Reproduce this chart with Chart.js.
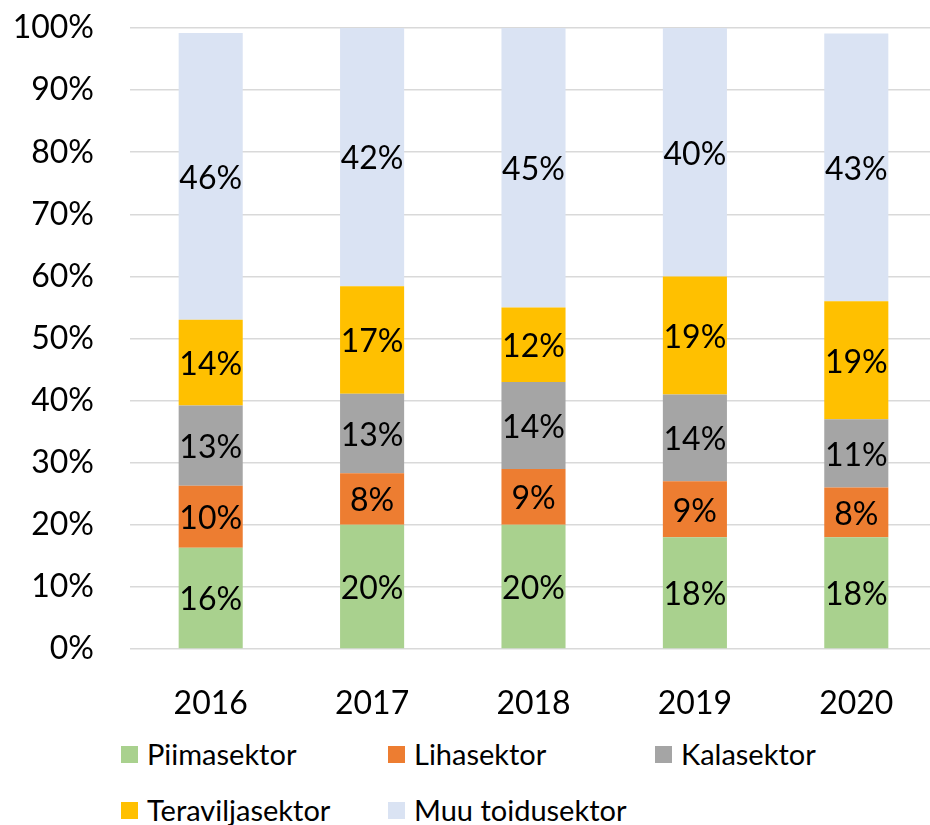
<!DOCTYPE html>
<html>
<head>
<meta charset="utf-8">
<script src="https://cdn.jsdelivr.net/npm/chart.js@4.4.1/dist/chart.umd.min.js"></script>
<style>
  html, body { margin: 0; padding: 0; background: #fff; overflow: hidden; }
  #wrap { position: absolute; left: 0; top: 0; width: 945px; height: 722px; }
  #legend { position: absolute; left: 0; top: 730px; width: 930px; height: 95px;
    font-family: Lato, sans-serif; font-size: 29px; color: #000; }
  .item { position: absolute; display: flex; align-items: center; white-space: nowrap; height: 34px; line-height: 34px; }
  .box { width: 17px; height: 17px; margin-right: 9px; flex: none; }
</style>
</head>
<body>
<div id="wrap"><canvas id="chart"></canvas></div>
<div id="legend"></div>
<script>
// values (share of each sector, %)
const years = ['2016', '2017', '2018', '2019', '2020']
const piimasektor = [16.3, 20.0, 20.0, 18.0, 18.0]
const lihasektor = [10.0, 8.3, 9.0, 9.0, 8.0]
const kalasektor = [12.9, 12.8, 14.0, 14.0, 11.0]
const teraviljasektor = [13.8, 17.3, 12.0, 19.0, 19.0]
const muuToidusektor = [46.2, 41.6, 45.0, 40.0, 43.1]

const seriesNames = ['Piimasektor', 'Lihasektor', 'Kalasektor', 'Teraviljasektor', 'Muu toidusektor']
const seriesData = [piimasektor, lihasektor, kalasektor, teraviljasektor, muuToidusektor]
const seriesColors = ['#A9D18E', '#ED7D31', '#A5A5A5', '#FFC000', '#DAE3F3']

const FONT = 'Lato, sans-serif'

// percent labels in the middle of every segment
const segmentLabels = {
  id: 'segmentLabels',
  afterDatasetsDraw(chart) {
    const ctx = chart.ctx
    ctx.save()
    ctx.font = '32px ' + FONT
    ctx.fillStyle = '#000'
    ctx.textAlign = 'center'
    ctx.textBaseline = 'middle'
    chart.data.datasets.forEach((ds, i) => {
      chart.getDatasetMeta(i).data.forEach((bar, j) => {
        ctx.fillText(Math.round(ds.data[j]) + '%', bar.x, (bar.y + bar.base) / 2 + 2)
      })
    })
    ctx.restore()
  }
}

new Chart(document.getElementById('chart'), {
  type: 'bar',
  data: {
    labels: years,
    datasets: seriesNames.map((name, i) => ({
      label: name,
      data: seriesData[i],
      backgroundColor: seriesColors[i],
      borderWidth: 0,
      categoryPercentage: 0.397,
      barPercentage: 1
    }))
  },
  options: {
    responsive: true,
    maintainAspectRatio: false,
    animation: false,
    layout: { padding: { top: 28, right: 8, bottom: 0, left: 0 } },
    scales: {
      x: {
        stacked: true,
        grid: { display: false },
        border: { display: false },
        ticks: { color: '#000', font: { family: FONT, size: 32 }, padding: 27 },
        afterFit(scale) { scale.height = 73 }
      },
      y: {
        stacked: true,
        min: 0,
        max: 100,
        grid: { color: '#D9D9D9', lineWidth: 1.5, drawTicks: false },
        border: { display: false },
        ticks: {
          stepSize: 10,
          color: '#000',
          font: { family: FONT, size: 32 },
          padding: 36,
          callback: v => v + '%'
        },
        afterFit(scale) {
          scale.width = 130
          scale.paddingTop = 0
          scale.paddingBottom = 0
        }
      }
    },
    plugins: {
      legend: { display: false },
      tooltip: { enabled: false }
    }
  },
  plugins: [segmentLabels]
})

// legend laid out in columns like the original
const legend = document.getElementById('legend')
seriesNames.forEach((name, i) => {
  const item = document.createElement('div')
  item.className = 'item'
  item.style.left = (121 + (i % 3) * 267) + 'px'
  item.style.top = (Math.floor(i / 3) * 56 + 7) + 'px'
  const box = document.createElement('span')
  box.className = 'box'
  box.style.background = seriesColors[i]
  const text = document.createElement('span')
  text.textContent = name
  item.appendChild(box)
  item.appendChild(text)
  legend.appendChild(item)
})
</script>
</body>
</html>
